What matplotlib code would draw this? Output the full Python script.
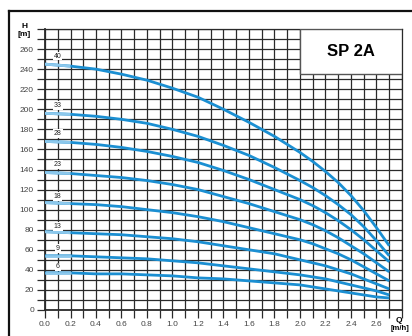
""" pump curves SP 2A, head H against flow Q """

import numpy as np
import matplotlib
matplotlib.use("Agg")
from matplotlib import pyplot as plt
from matplotlib.patches import Rectangle
from matplotlib.lines import Line2D

plt.rcParams['font.family'] = ['Liberation Sans', 'DejaVu Sans']

q = [0.0, 0.2, 0.4, 0.6, 0.8, 1.0, 1.2, 1.4, 1.6, 1.8, 2.0, 2.1, 2.2, 2.3, 2.4, 2.5, 2.6, 2.7]

# number of stages -> head [m]
stages = ["40", "33", "28", "23", "18", "13", "9", "6"]
h_40 = [245, 243, 240, 235, 229, 221, 212, 200, 187, 173, 157, 148, 138, 127, 114, 99, 82, 64]
h_33 = [196, 195, 193, 190, 186, 180, 173, 164, 154, 142, 129, 122, 114, 105, 95, 83, 69, 54]
h_28 = [168, 167, 165, 162, 158, 153, 147, 139, 130, 120, 110, 104, 97, 89, 80, 70, 59, 48]
h_23 = [137, 136, 134, 132, 129, 125, 120, 113, 106, 98, 90, 85, 79, 72, 64, 56, 47, 38]
h_18 = [107, 106, 105, 103, 100, 97, 93, 88, 82, 76, 70, 66, 61, 56, 50, 43, 36, 29]
h_13 = [78, 77, 76, 75, 73, 71, 68, 64, 60, 56, 50, 47, 44, 40, 36, 31, 26, 21]
h_9 = [54, 54, 53, 52, 51, 49, 47, 44, 41, 38, 35, 33, 31, 28, 25, 22, 19, 15]
h_6 = [37, 37, 36, 36, 35, 34, 32, 31, 29, 27, 25, 23, 21, 19, 17, 15, 13, 12]
heads = [h_40, h_33, h_28, h_23, h_18, h_13, h_9, h_6]

# where the stage numbers sit
label_q = 0.1
label_h = [253, 204, 176, 145, 113, 83, 61, 43]

x_ticks = np.round(np.arange(0, 2.61, 0.2), 1)
y_ticks = np.arange(0, 261, 20)

blue = '#1b8fd2'
light_blue = '#8cc8ec'
grid_col = '#2a2a2a'

fig = plt.figure(figsize=(4.12, 3.36), dpi=100)
ax = fig.add_axes([45 / 412, 26 / 336, 357 / 412, 281 / 336])

# grid every 0.1 m3/h and 10 m
for xv in np.arange(0, 2.81, 0.1):
    ax.axvline(xv, color=grid_col, lw=0.9, zorder=1)
for yv in np.arange(0, 281, 10):
    ax.axhline(yv, color=grid_col, lw=0.9, zorder=1)

for name, h in zip(stages, heads):
    ax.plot(q, h, color=blue, lw=2.0, solid_capstyle='butt', zorder=3)
    ax.plot(q[:2], h[:2], color=light_blue, lw=2.0, solid_capstyle='butt', zorder=3)

for name, yl in zip(stages, label_h):
    ax.text(label_q, yl, name, fontsize=5, ha='center', va='center', color='#222222',
            bbox=dict(facecolor='white', edgecolor='none', pad=0.6), zorder=4)

# title box
ax.add_patch(Rectangle((2.0, 235), 0.8, 45, facecolor='white', edgecolor='#555555', lw=1.0, zorder=5))
ax.text(2.4, 257.5, "SP 2A", fontsize=12, fontweight='bold', ha='center', va='center', zorder=6)

ax.set_xlim(0, 2.8)
ax.set_ylim(0, 280)
ax.set_xticks(np.arange(0, 2.81, 0.1), minor=True)
ax.set_yticks(np.arange(0, 281, 10), minor=True)
ax.set_xticks(x_ticks)
ax.set_xticklabels([f"{v:.1f}" for v in x_ticks])
ax.set_yticks(y_ticks)
ax.tick_params(which='both', length=6, width=0.9, color=grid_col, labelsize=6,
               labelcolor='#444444', pad=2)
for s in ax.spines.values():
    s.set_color(grid_col)
    s.set_linewidth(0.9)
ax.spines['left'].set_linewidth(1.3)
ax.spines['bottom'].set_linewidth(1.3)

fig.text(24 / 412, 1 - 26 / 336, "H", fontsize=6, fontweight='bold', ha='center', va='center')
fig.text(24 / 412, 1 - 34 / 336, "[m]", fontsize=6, fontweight='bold', ha='center', va='center')
fig.text(399 / 412, 1 - 321 / 336, "Q", fontsize=6, fontweight='bold', ha='center', va='center')
fig.text(400 / 412, 1 - 329 / 336, "[m/h]", fontsize=5.5, fontweight='bold', ha='center', va='center')

# outer frame (left and top edge)
fig.add_artist(Line2D([9 / 412, 9 / 412], [0, 1 - 11 / 336], color='#111111', lw=1.6))
fig.add_artist(Line2D([9 / 412, 1], [1 - 11 / 336, 1 - 11 / 336], color='#111111', lw=1.6))

fig.savefig("out.png", dpi=100)
